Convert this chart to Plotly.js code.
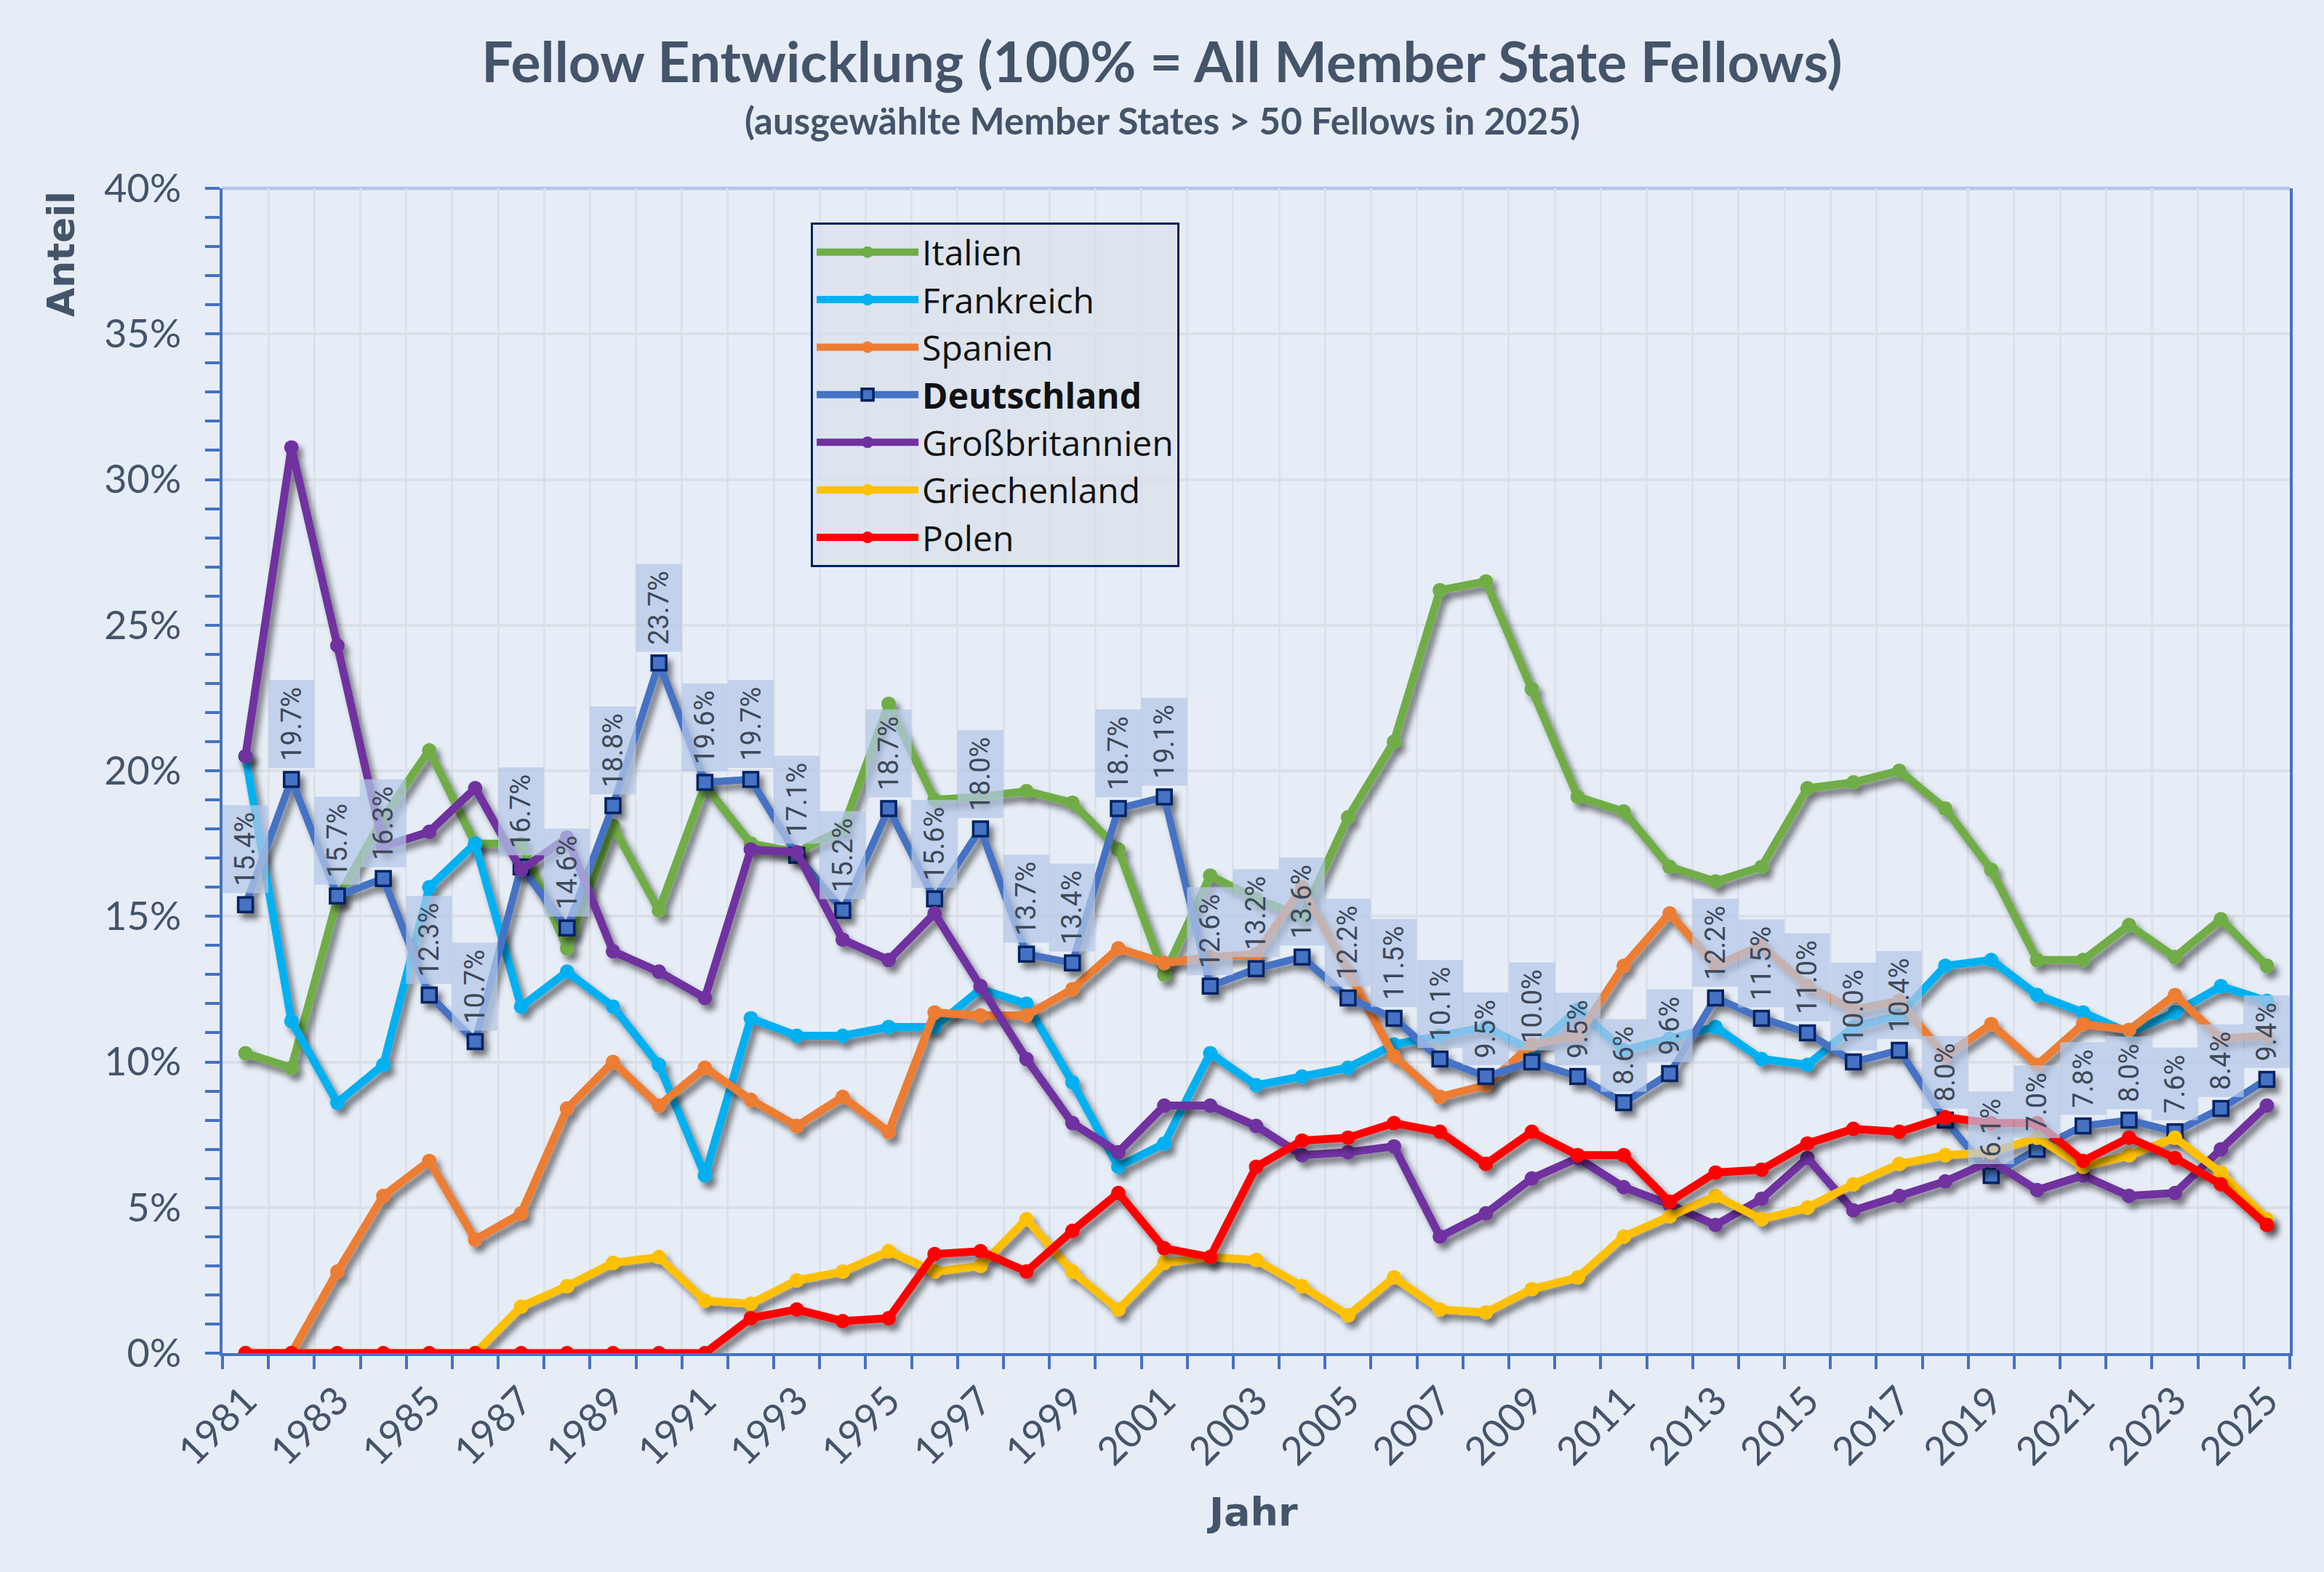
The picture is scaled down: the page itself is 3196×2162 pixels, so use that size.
<!DOCTYPE html>
<html>
<head>
<meta charset="utf-8">
<script src="https://cdn.plot.ly/plotly-3.0.1.min.js"></script>
<style>
  html, body { margin: 0; padding: 0; background: #E7EDF7; }
  #chart { width: 3196px; height: 2162px; }
</style>
</head>
<body>
<svg width="0" height="0" style="position:absolute">
  <defs>
    <filter id="lineShadow" filterUnits="userSpaceOnUse" x="-200" y="-200" width="3600" height="2600">
      <feGaussianBlur in="SourceAlpha" stdDeviation="4"/>
      <feOffset dx="6" dy="8" result="blurOff"/>
      <feComponentTransfer><feFuncA type="linear" slope="0.5"/></feComponentTransfer>
      <feMerge><feMergeNode/><feMergeNode in="SourceGraphic"/></feMerge>
    </filter>
  </defs>
</svg>
<div id="chart"></div>
<script>
const years = [1981, 1982, 1983, 1984, 1985, 1986, 1987, 1988, 1989, 1990,
  1991, 1992, 1993, 1994, 1995, 1996, 1997, 1998, 1999, 2000,
  2001, 2002, 2003, 2004, 2005, 2006, 2007, 2008, 2009, 2010,
  2011, 2012, 2013, 2014, 2015, 2016, 2017, 2018, 2019, 2020,
  2021, 2022, 2023, 2024, 2025];

const yearLabels = ['1981', '1983', '1985', '1987', '1989', '1991', '1993', '1995', '1997', '1999',
  '2001', '2003', '2005', '2007', '2009', '2011', '2013', '2015', '2017', '2019',
  '2021', '2023', '2025'];

// Anteil in %
const italien = [10.3, 9.8, 15.6, 18.4, 20.7, 17.5, 17.5, 13.9, 18.1, 15.2,
  19.5, 17.5, 17.2, 18.0, 22.3, 19.0, 19.1, 19.3, 18.9, 17.3,
  13.0, 16.4, 15.6, 15.0, 18.4, 21.0, 26.2, 26.5, 22.8, 19.1,
  18.6, 16.7, 16.2, 16.7, 19.4, 19.6, 20.0, 18.7, 16.6, 13.5,
  13.5, 14.7, 13.6, 14.9, 13.3];

const frankreich = [20.5, 11.4, 8.6, 9.9, 16.0, 17.5, 11.9, 13.1, 11.9, 9.9,
  6.1, 11.5, 10.9, 10.9, 11.2, 11.2, 12.5, 12.0, 9.3, 6.4,
  7.2, 10.3, 9.2, 9.5, 9.8, 10.6, 10.9, 11.2, 10.4, 11.8,
  10.4, 10.8, 11.2, 10.1, 9.9, 11.2, 11.6, 13.3, 13.5, 12.3,
  11.7, 11.0, 11.7, 12.6, 12.1];

const spanien = [0, 0, 2.8, 5.4, 6.6, 3.9, 4.8, 8.4, 10.0, 8.5,
  9.8, 8.7, 7.8, 8.8, 7.6, 11.7, 11.6, 11.6, 12.5, 13.9,
  13.4, 13.6, 13.7, 16.0, 13.1, 10.2, 8.8, 9.2, 10.6, 10.9,
  13.3, 15.1, 13.3, 14.0, 12.6, 11.8, 12.1, 10.2, 11.3, 9.9,
  11.3, 11.1, 12.3, 10.8, 10.9];

const deutschland = [15.4, 19.7, 15.7, 16.3, 12.3, 10.7, 16.7, 14.6, 18.8, 23.7,
  19.6, 19.7, 17.1, 15.2, 18.7, 15.6, 18.0, 13.7, 13.4, 18.7,
  19.1, 12.6, 13.2, 13.6, 12.2, 11.5, 10.1, 9.5, 10.0, 9.5,
  8.6, 9.6, 12.2, 11.5, 11.0, 10.0, 10.4, 8.0, 6.1, 7.0,
  7.8, 8.0, 7.6, 8.4, 9.4];

const grossbritannien = [20.5, 31.1, 24.3, 17.4, 17.9, 19.4, 16.6, 17.7, 13.8, 13.1,
  12.2, 17.3, 17.2, 14.2, 13.5, 15.1, 12.6, 10.1, 7.9, 6.9,
  8.5, 8.5, 7.8, 6.8, 6.9, 7.1, 4.0, 4.8, 6.0, 6.7,
  5.7, 5.1, 4.4, 5.3, 6.7, 4.9, 5.4, 5.9, 6.6, 5.6,
  6.1, 5.4, 5.5, 7.0, 8.5];

const griechenland = [0, 0, 0, 0, 0, 0, 1.6, 2.3, 3.1, 3.3,
  1.8, 1.7, 2.5, 2.8, 3.5, 2.8, 3.0, 4.6, 2.8, 1.5,
  3.1, 3.3, 3.2, 2.3, 1.3, 2.6, 1.5, 1.4, 2.2, 2.6,
  4.0, 4.7, 5.4, 4.6, 5.0, 5.8, 6.5, 6.8, 6.9, 7.4,
  6.4, 6.8, 7.4, 6.2, 4.6];

const polen = [0, 0, 0, 0, 0, 0, 0, 0, 0, 0,
  0, 1.2, 1.5, 1.1, 1.2, 3.4, 3.5, 2.8, 4.2, 5.5,
  3.6, 3.3, 6.4, 7.3, 7.4, 7.9, 7.6, 6.5, 7.6, 6.8,
  6.8, 5.2, 6.2, 6.3, 7.2, 7.7, 7.6, 8.1, 7.9, 7.9,
  6.6, 7.4, 6.7, 5.8, 4.4];

const textColor = '#44546A';
const axisBlue = '#4472C4';

function series(name, values, color) {
  return {
    x: years,
    y: values,
    name: name,
    legendgroup: name,
    type: 'scatter',
    mode: 'lines+markers',
    line: { color: color, width: 11 },
    marker: { color: color, size: 20, symbol: 'circle' },
    hoverinfo: 'x+y+name'
  };
}

const germany = series('<b>Deutschland</b>', deutschland, axisBlue);
germany.line.width = 10;
germany.marker = { color: axisBlue, size: 20, symbol: 'square', line: { color: '#002060', width: 3.5 } };

const data = [
  series('Italien', italien, '#70AD47'),
  series('Frankreich', frankreich, '#00B0F0'),
  series('Spanien', spanien, '#ED7D31'),
  germany,
  series('Großbritannien', grossbritannien, '#7030A0'),
  series('Griechenland', griechenland, '#FFC000'),
  series('Polen', polen, '#FF0000')
];

// Datenbeschriftungen Deutschland
const labels = years.map((yr, i) => ({
  x: yr,
  y: deutschland[i],
  xref: 'x',
  yref: 'y',
  text: deutschland[i].toFixed(1) + '%',
  textangle: -90,
  showarrow: false,
  yanchor: 'bottom',
  yshift: 15,
  bgcolor: 'rgba(180, 199, 231, 0.72)',
  borderpad: 9,
  font: { family: 'Liberation Sans Narrow, Roboto, sans-serif', size: 38, color: '#3E4858' }
}));

const layout = {
  width: 3196,
  height: 2162,
  paper_bgcolor: '#E7EDF7',
  plot_bgcolor: '#E7EDF7',
  margin: { l: 306, r: 47, t: 259, b: 301 },
  title: {
    text: 'Fellow Entwicklung (100% = All Member State Fellows)',
    font: { family: 'Lato, sans-serif', size: 77, color: textColor, weight: 'bold' },
    x: 0.5,
    xref: 'container',
    xanchor: 'center',
    y: 1 - 86 / 2162,
    yref: 'container',
    yanchor: 'middle'
  },
  showlegend: true,
  legend: {
    x: 0.2846,
    y: 0.9707,
    xanchor: 'left',
    yanchor: 'top',
    bgcolor: 'rgba(218, 224, 233, 0.75)',
    bordercolor: '#002060',
    borderwidth: 3,
    font: { family: 'Open Sans, sans-serif', size: 48, color: '#111111' },
    tracegroupgap: 27,
    itemwidth: 140,
    traceorder: 'normal'
  },
  xaxis: {
    range: [1980.5, 2025.5],
    tickmode: 'array',
    tickvals: yearLabels.map(Number),
    ticktext: yearLabels,
    tickangle: -45,
    ticks: '',
    ticklabelstandoff: 8,
    showgrid: false,
    zeroline: false,
    showline: true,
    linecolor: axisBlue,
    linewidth: 4,
    tickfont: { family: 'Lato, sans-serif', size: 54, color: textColor },
    minor: {
      tickmode: 'linear',
      tick0: 1980.5,
      dtick: 1,
      ticks: 'outside',
      ticklen: 18,
      tickwidth: 4,
      tickcolor: axisBlue,
      showgrid: true,
      gridcolor: '#DCE1EA',
      gridwidth: 3
    }
  },
  yaxis: {
    range: [0, 40],
    tickmode: 'linear',
    tick0: 0,
    dtick: 5,
    ticksuffix: '%',
    ticks: 'outside',
    ticklen: 20,
    tickwidth: 4,
    tickcolor: axisBlue,
    ticklabelstandoff: 22,
    showgrid: true,
    gridcolor: '#DADFE8',
    gridwidth: 4,
    zeroline: false,
    showline: true,
    mirror: true,
    linecolor: axisBlue,
    linewidth: 4,
    tickfont: { family: 'Lato, sans-serif', size: 54, color: textColor },
    minor: {
      tickmode: 'linear',
      tick0: 0,
      dtick: 1,
      ticks: 'outside',
      ticklen: 20,
      tickwidth: 4,
      tickcolor: axisBlue,
      showgrid: false
    }
  },
  shapes: [
    { type: 'line', xref: 'paper', yref: 'paper', x0: 0, x1: 1, y0: 1, y1: 1,
      line: { color: '#B4C7E7', width: 5 }, layer: 'below' }
  ],
  annotations: [
    {
      text: '(ausgewählte Member States > 50 Fellows in 2025)',
      xref: 'paper', yref: 'paper', x: (1598 - 306) / 2843, y: (1861 - 166) / 1602,
      showarrow: false, xanchor: 'center', yanchor: 'middle',
      font: { family: 'Lato, sans-serif', size: 51, color: textColor, weight: 'bold' }
    },
    {
      text: '<b>Anteil</b>',
      xref: 'paper', yref: 'paper', x: (84 - 306) / 2843, y: (1861 - 350) / 1602,
      showarrow: false, textangle: -90, xanchor: 'center', yanchor: 'middle',
      font: { family: 'DejaVu Sans, sans-serif', size: 52, color: textColor }
    },
    {
      text: '<b>Jahr</b>',
      xref: 'paper', yref: 'paper', x: (1722 - 306) / 2843, y: (1861 - 2079) / 1602,
      showarrow: false, xanchor: 'center', yanchor: 'middle',
      font: { family: 'DejaVu Sans, sans-serif', size: 54, color: textColor }
    }
  ].concat(labels)
};

// Schatten unter den Linien (wie in der Excel-Vorlage)
function addShadows(gd) {
  gd.querySelectorAll('.scatterlayer .trace').forEach(g => {
    g.setAttribute('filter', 'url(#lineShadow)');
    g.style.filter = 'url(#lineShadow)';
  });
}

const gd = document.getElementById('chart');
Plotly.newPlot(gd, data, layout, { displayModeBar: false, responsive: false });
addShadows(gd);
gd.on('plotly_afterplot', () => addShadows(gd));
</script>
</body>
</html>
